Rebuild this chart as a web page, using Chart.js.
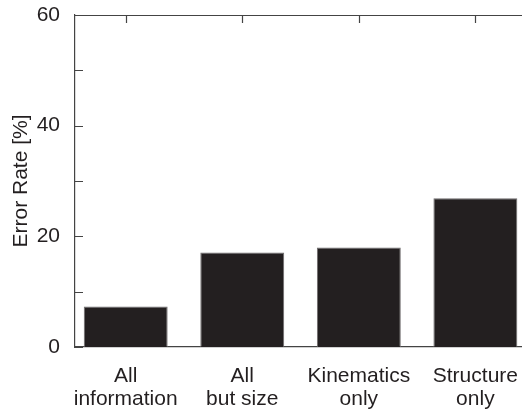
<!DOCTYPE html>
<html lang="en">
<head>
    <meta charset="UTF-8">
    <title>Error Rate</title>
    <script src="https://cdn.jsdelivr.net/npm/chart.js"></script>
    <style>
        body {
            margin: 0;
            padding: 0;
            background-color: white;
        }
        #wrap {
            width: 522px;
            height: 411px;
        }
    </style>
</head>
<body>
    <div id="wrap">
        <canvas id="errorChart" width="522" height="411"></canvas>
    </div>

    <script>
        const categories = [['All', 'information'], ['All', 'but size'], ['Kinematics', 'only'], ['Structure', 'only']];
        const errorRates = [7.3, 17.1, 18.0, 26.9];
        const yTicks = [0, 10, 20, 30, 40, 50, 60];
        const yLabelled = [0, 20, 40, 60];

        const ink = '#231f20';
        const axisColor = '#444444';
        const fontFamily = 'Liberation Sans, Arial, sans-serif';

        // ticks pointing into the plot plus the open top frame line
        const frame = {
            id: 'frame',
            afterDraw(chart) {
                const ctx = chart.ctx;
                const area = chart.chartArea;
                const x = chart.scales.x;
                const y = chart.scales.y;
                ctx.save();
                ctx.strokeStyle = axisColor;
                ctx.lineWidth = 1.2;
                ctx.beginPath();
                ctx.moveTo(area.left, area.top + 0.5);
                ctx.lineTo(chart.width, area.top + 0.5);
                yTicks.forEach(v => {
                    const py = Math.round(y.getPixelForValue(v)) + 0.5;
                    ctx.moveTo(area.left, py);
                    ctx.lineTo(area.left + 8, py);
                });
                categories.forEach((c, i) => {
                    const px = Math.round(x.getPixelForValue(i + 1)) + 0.5;
                    ctx.moveTo(px, area.top);
                    ctx.lineTo(px, area.top + 8);
                });
                ctx.stroke();
                ctx.restore();
            }
        };

        new Chart(document.getElementById('errorChart'), {
            type: 'bar',
            data: {
                datasets: [{
                    data: errorRates.map((v, i) => ({ x: i + 1, y: v })),
                    backgroundColor: ink,
                    borderColor: '#6e6b6c',
                    borderWidth: 1,
                    borderSkipped: 'bottom',
                    barPercentage: 0.72,
                    categoryPercentage: 1
                }]
            },
            options: {
                responsive: false,
                animation: false,
                layout: { padding: { top: 15, right: 0, left: 0, bottom: 0 } },
                plugins: {
                    legend: { display: false },
                    tooltip: { enabled: false }
                },
                scales: {
                    x: {
                        type: 'linear',
                        offset: false,
                        min: 0.565,
                        max: 4.4,
                        grid: { display: false },
                        border: { display: true, color: axisColor, width: 1.2 },
                        afterFit(scale) {
                            scale.height = 64;
                            scale.paddingLeft = 0;
                            scale.paddingRight = 0;
                        },
                        ticks: {
                            stepSize: 1,
                            includeBounds: false,
                            autoSkip: false,
                            maxRotation: 0,
                            padding: 10,
                            color: ink,
                            font: { family: fontFamily, size: 21, lineHeight: 1.1 },
                            callback: v => categories[v - 1] || ''
                        }
                    },
                    y: {
                        min: 0,
                        max: 60,
                        grid: { display: false },
                        border: { display: true, color: axisColor, width: 1.2 },
                        afterFit(scale) {
                            scale.width = 75;
                            scale.paddingTop = 0;
                            scale.paddingBottom = 0;
                        },
                        title: {
                            display: true,
                            text: 'Error Rate [%]',
                            color: ink,
                            font: { family: fontFamily, size: 21 },
                            padding: { top: 9, bottom: 0 }
                        },
                        ticks: {
                            stepSize: 10,
                            padding: 7,
                            color: ink,
                            font: { family: fontFamily, size: 21 },
                            callback: v => yLabelled.includes(v) ? String(v) : ''
                        }
                    }
                }
            },
            plugins: [frame]
        });
    </script>
</body>
</html>
